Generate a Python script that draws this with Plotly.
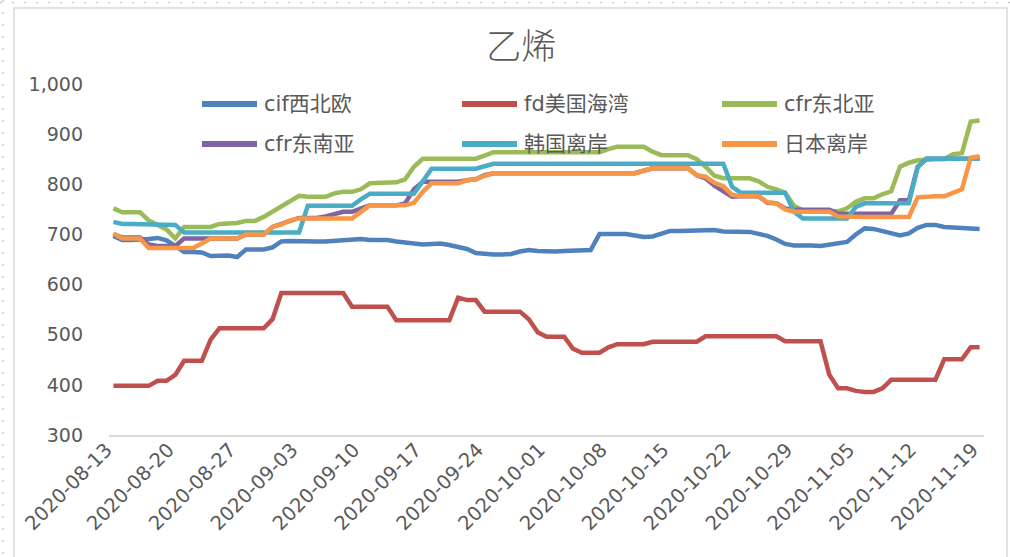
import pandas as pd
import plotly.graph_objects as go

# daily quotes, 2020-08-13 .. 2020-11-19 (one row per week)
dates = pd.date_range("2020-08-13", "2020-11-19", freq="D")
tick_dates = pd.date_range("2020-08-13", "2020-11-19", freq="7D")
tick_labels = [d.strftime("%Y-%m-%d") for d in tick_dates]

cif_nwe = [
    697, 689, 689, 689, 691, 693, 688,
    677, 665, 665, 664, 657, 657, 658,
    655, 670, 670, 670, 674, 686, 687,
    686, 686, 686, 686, 687, 688, 690,
    691, 689, 689, 689, 686, 684, 681,
    680, 681, 682, 679, 674, 671, 663,
    661, 660, 660, 661, 666, 669, 667,
    666, 666, 667, 667, 668, 669, 701,
    701, 701, 701, 698, 695, 696, 702,
    707, 707, 707, 707, 707, 709, 706,
    705, 705, 705, 701, 697, 690, 681,
    678, 679, 678, 677, 680, 683, 685,
    700, 712, 711, 707, 703, 698, 702,
    713, 719, 719, 715, 714, 714, 712,
    711,
]

fd_usg = [
    398, 398, 398, 398, 398, 408, 408,
    420, 448, 448, 448, 490, 513, 513,
    513, 513, 513, 513, 531, 583, 583,
    583, 583, 583, 583, 583, 583, 556,
    556, 556, 556, 556, 529, 529, 529,
    529, 529, 529, 529, 574, 569, 569,
    546, 546, 546, 546, 546, 531, 505,
    496, 496, 496, 472, 464, 464, 464,
    475, 481, 481, 481, 481, 486, 486,
    486, 486, 486, 486, 497, 497, 497,
    497, 497, 497, 497, 497, 497, 487,
    487, 487, 487, 487, 420, 393, 393,
    388, 386, 386, 393, 410, 410, 410,
    410, 410, 410, 451, 451, 451, 475,
    475,
]

cfr_nea = [
    752, 744, 744, 744, 728, 720, 710,
    692, 715, 715, 715, 715, 721, 721,
    723, 727, 727, 735, 746, 757, 768,
    777, 775, 775, 775, 782, 785, 785,
    790, 802, 802, 802, 804, 810, 835,
    851, 851, 851, 851, 851, 851, 851,
    857, 864, 864, 864, 864, 864, 864,
    864, 864, 864, 864, 864, 864, 864,
    870, 875, 875, 875, 875, 865, 858,
    858, 858, 858, 850, 835, 817, 812,
    812, 812, 812, 806, 795, 790, 783,
    757, 748, 748, 748, 748, 746, 752,
    765, 772, 772, 780, 786, 835, 843,
    848, 850, 850, 850, 860, 862, 925,
    927,
]

cfr_sea = [
    700, 694, 694, 694, 680, 677, 677,
    677, 692, 692, 692, 692, 692, 692,
    692, 700, 700, 700, 715, 720, 727,
    733, 733, 733, 736, 741, 745, 745,
    752, 758, 758, 758, 758, 762, 790,
    805, 805, 805, 805, 805, 808, 810,
    818, 822, 822, 822, 822, 822, 822,
    822, 822, 822, 822, 822, 822, 822,
    822, 822, 822, 822, 827, 832, 832,
    832, 832, 832, 818, 812, 797, 785,
    775, 776, 776, 776, 763, 762, 752,
    749, 749, 749, 749, 749, 741, 741,
    741, 741, 741, 741, 741, 768, 768,
    835, 851, 851, 851, 851, 851, 851,
    851,
]

korea = [
    725, 721, 721, 721, 721, 721, 721,
    719, 704, 704, 704, 704, 704, 704,
    704, 704, 704, 704, 704, 704, 704,
    704, 757, 757, 757, 757, 757, 757,
    770, 781, 781, 781, 781, 781, 781,
    806, 831, 831, 831, 831, 831, 831,
    836, 841, 841, 841, 841, 841, 841,
    841, 841, 841, 841, 841, 841, 841,
    841, 841, 841, 841, 841, 841, 841,
    841, 841, 841, 841, 841, 841, 841,
    795, 783, 783, 783, 783, 783, 783,
    745, 732, 732, 732, 732, 732, 732,
    755, 762, 762, 762, 762, 762, 762,
    835, 851, 851, 851, 851, 851, 851,
    851,
]

japan = [
    702, 692, 692, 692, 673, 673, 673,
    673, 673, 673, 682, 692, 692, 692,
    692, 700, 700, 700, 715, 720, 728,
    732, 732, 732, 732, 732, 732, 732,
    745, 758, 758, 758, 758, 758, 763,
    785, 802, 802, 802, 802, 808, 810,
    817, 822, 822, 822, 822, 822, 822,
    822, 822, 822, 822, 822, 822, 822,
    822, 822, 822, 822, 827, 832, 832,
    832, 832, 832, 818, 815, 803, 796,
    779, 776, 776, 776, 764, 762, 750,
    745, 745, 745, 745, 745, 736, 735,
    735, 735, 735, 735, 735, 735, 735,
    774, 776, 776, 776, 783, 790, 853,
    856,
]

series_names = ["cif西北欧", "fd美国海湾", "cfr东北亚", "cfr东南亚", "韩国离岸", "日本离岸"]
series_values = [cif_nwe, fd_usg, cfr_nea, cfr_sea, korea, japan]
colors = ["#4F81BD", "#C0504D", "#9BBB59", "#8064A2", "#4BACC6", "#F79646"]

W, H = 1010, 557
L, R, T, B = 109, 26, 84, 122
FONT = "DejaVu Sans, Noto Sans CJK SC, sans-serif"
GREY = "#595959"


def px_x(x):
    return (x - L) / (W - L - R)


def px_y(y):
    return (H - B - y) / (H - T - B)


fig = go.Figure()
for name, vals, col in zip(series_names, series_values, colors):
    fig.add_trace(go.Scatter(x=dates, y=vals, name=name, mode="lines",
                             line=dict(color=col, width=4.5),
                             showlegend=False))

# chart-area frame and sheet dots
shapes = [
    dict(type="rect", xref="paper", yref="paper",
         x0=px_x(14), x1=px_x(1007), y0=px_y(8), y1=px_y(600),
         line=dict(color="#D9D9D9", width=1.5), layer="below"),
    dict(type="line", xref="paper", yref="paper",
         x0=px_x(0), x1=px_x(1010), y0=px_y(2.5), y1=px_y(2.5),
         line=dict(color="#C8C8C8", width=1.5, dash="2px,10px")),
    dict(type="line", xref="paper", yref="paper",
         x0=px_x(3), x1=px_x(3), y0=px_y(0), y1=px_y(557),
         line=dict(color="#C8C8C8", width=1.5, dash="2px,10px")),
]

# legend drawn as a 2 x 3 grid like the original
annotations = []
cols_x = [202, 462, 722]
rows_y = [104, 144]
for i, (name, col) in enumerate(zip(series_names, colors)):
    lx = cols_x[i % 3]
    ly = rows_y[i // 3]
    shapes.append(dict(type="line", xref="paper", yref="paper",
                       x0=px_x(lx), x1=px_x(lx + 55), y0=px_y(ly), y1=px_y(ly),
                       line=dict(color=col, width=6)))
    annotations.append(dict(text=name, xref="paper", yref="paper",
                            x=px_x(lx + 60), y=px_y(ly), xanchor="left", yanchor="middle",
                            showarrow=False, font=dict(family=FONT, size=21, color=GREY)))

fig.update_layout(
    width=W, height=H,
    margin=dict(l=L, r=R, t=T, b=B, autoexpand=False),
    paper_bgcolor="white", plot_bgcolor="white",
    title=dict(text="乙烯", x=0.516, xref="container", y=1 - 47 / H, yref="container",
               xanchor="center", yanchor="middle",
               font=dict(family="Noto Sans CJK SC", size=35, color=GREY, weight=300)),
    shapes=shapes,
    annotations=annotations,
    showlegend=False,
)

fig.update_xaxes(
    range=[dates[0] - pd.Timedelta(hours=12), dates[-1] + pd.Timedelta(hours=12)],
    tickvals=tick_dates, ticktext=tick_labels, tickangle=-45,
    showgrid=False, zeroline=False, automargin=False,
    showline=True, linecolor="#D9D9D9", linewidth=1.5,
    ticks="", ticklabelstandoff=-6, ticklabelshift=-7,
    tickfont=dict(family=FONT, size=19.5, color=GREY),
)
fig.update_yaxes(
    range=[300, 1000], tickvals=list(range(300, 1001, 100)), tickformat=",d",
    showgrid=False, zeroline=False, showline=False, ticks="", automargin=False,
    ticklabelstandoff=25,
    tickfont=dict(family=FONT, size=19, color=GREY),
)

# the page body has a default 8px margin; drop it so the chart sits at (0, 0)
fig.write_html("out.html", config={"displayModeBar": False},
               post_script="document.body.style.margin='0';")
